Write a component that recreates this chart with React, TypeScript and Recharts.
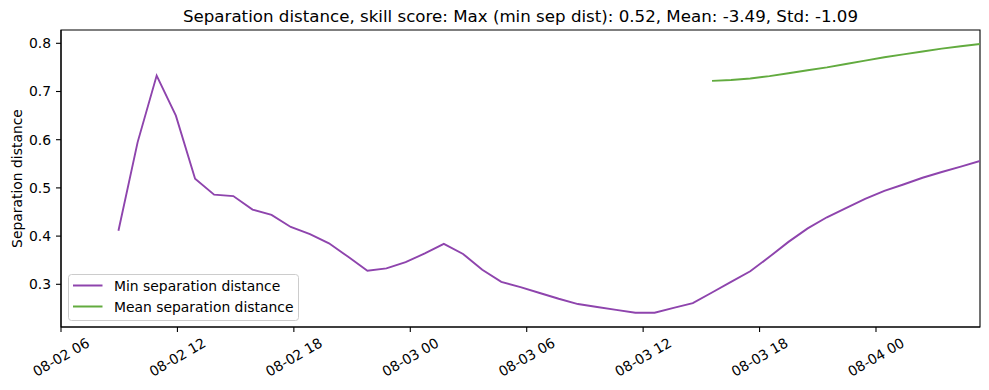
import React from "react";
import { LineChart, Line, XAxis, YAxis, Legend, ReferenceArea } from "recharts";

// hours since 08-02 00:00
const TIMES = [
  8.96, 9.95, 10.93, 11.92, 12.91, 13.89, 14.88, 15.87, 16.85, 17.84,
  18.83, 19.81, 20.8, 21.79, 22.77, 23.76, 24.75, 25.73, 26.72, 27.71,
  28.69, 29.68, 30.67, 31.65, 32.64, 33.63, 34.61, 35.6, 36.59, 37.57,
  38.56, 39.55, 40.53, 41.52, 42.51, 43.49, 44.48, 45.47, 46.45, 47.44,
  48.43, 49.41, 50.4, 51.39, 52.37, 53.36,
];

const MIN_SEP = [
  0.411, 0.595, 0.733, 0.65, 0.519, 0.486, 0.483, 0.455, 0.444, 0.419,
  0.404, 0.385, 0.357, 0.328, 0.333, 0.346, 0.364, 0.384, 0.363, 0.33,
  0.305, 0.294, 0.282, 0.27, 0.259, 0.253, 0.247, 0.241, 0.241, 0.251,
  0.261, 0.283, 0.305, 0.327, 0.357, 0.388, 0.416, 0.439, 0.458, 0.477,
  0.494, 0.507, 0.521, 0.533, 0.544, 0.556,
];

const MEAN_SEP = [
  null, null, null, null, null, null, null, null, null, null,
  null, null, null, null, null, null, null, null, null, null,
  null, null, null, null, null, null, null, null, null, null,
  null, 0.722, 0.724, 0.727, 0.732, 0.738, 0.744, 0.75, 0.757, 0.764,
  0.771, 0.777, 0.783, 0.789, 0.794, 0.7985,
];

const X_TICKS = [6, 12, 18, 24, 30, 36, 42, 48];
const Y_TICKS = [0.3, 0.4, 0.5, 0.6, 0.7, 0.8];
const X_DOMAIN: [number, number] = [6, 53.36];
const Y_DOMAIN: [number, number] = [0.2114, 0.8276];

const TITLE =
  "Separation distance, skill score: Max (min sep dist): 0.52, Mean: -3.49, Std: -1.09";
const Y_LABEL = "Separation distance";

const SERIES = [
  { key: "min", name: "Min separation distance", color: "#8e44ad" },
  { key: "mean", name: "Mean separation distance", color: "#62ab3f" },
];

const data = TIMES.map((t, i) => ({ t, min: MIN_SEP[i], mean: MEAN_SEP[i] }));

const FONT = "DejaVu Sans";

const fmtTime = (h: number) => {
  const day = 2 + Math.floor(h / 24);
  const hr = Math.round(h % 24);
  return `08-${String(day).padStart(2, "0")} ${String(hr).padStart(2, "0")}`;
};

const XTick = (props: any) => {
  const { x, y, payload } = props;
  return (
    <g transform={`translate(${x},${y + 25})`}>
      <text
        transform="rotate(-30)"
        textAnchor="middle"
        dominantBaseline="central"
        fontSize={13.9}
        fontFamily={FONT}
        fill="#000"
      >
        {fmtTime(payload.value)}
      </text>
    </g>
  );
};

const LegendBox = () => (
  <svg width={232} height={48} style={{ display: "block" }}>
    <rect
      x={0.5}
      y={0.5}
      width={230}
      height={46}
      rx={3}
      ry={3}
      fill="#ffffff"
      fillOpacity={0.8}
      stroke="#cccccc"
      strokeWidth={1}
    />
    {SERIES.map((s, i) => (
      <g key={s.key}>
        <line x1={5} x2={34.5} y1={11.5 + i * 21} y2={11.5 + i * 21} stroke={s.color} strokeWidth={2} />
        <text
          x={46}
          y={11.5 + i * 21}
          dominantBaseline="central"
          fontSize={13.9}
          fontFamily={FONT}
          fill="#000"
        >
          {s.name}
        </text>
      </g>
    ))}
  </svg>
);

export default function App() {
  return (
    <div style={{ position: "absolute", left: 0, top: 0, width: 989, height: 390, background: "#fff" }}>
      <LineChart width={989} height={390} data={data} margin={{ top: 30, right: 9, bottom: 0, left: 0 }}>
        <XAxis
          dataKey="t"
          type="number"
          domain={X_DOMAIN}
          ticks={X_TICKS}
          allowDataOverflow
          height={63}
          tickSize={5}
          tickMargin={0}
          tick={<XTick />}
          tickLine={{ stroke: "#000", strokeWidth: 1.1 }}
          axisLine={{ stroke: "#000", strokeWidth: 1.1 }}
        />
        <YAxis
          type="number"
          domain={Y_DOMAIN}
          ticks={Y_TICKS}
          allowDataOverflow
          width={61}
          tickSize={5}
          tickMargin={5}
          tickFormatter={(v: number) => v.toFixed(1)}
          tick={{ fontSize: 13.9, fontFamily: FONT, fill: "#000" }}
          tickLine={{ stroke: "#000", strokeWidth: 1.1 }}
          axisLine={{ stroke: "#000", strokeWidth: 1.1 }}
          label={{
            content: () => (
              <text
                x={16.5}
                y={178.5}
                transform="rotate(-90, 16.5, 178.5)"
                textAnchor="middle"
                dominantBaseline="central"
                fontSize={13.9}
                fontFamily={FONT}
                fill="#000"
              >
                {Y_LABEL}
              </text>
            ),
          }}
        />
        <ReferenceArea
          x1={X_DOMAIN[0]}
          x2={X_DOMAIN[1]}
          y1={Y_DOMAIN[0]}
          y2={Y_DOMAIN[1]}
          fill="none"
          fillOpacity={0}
          stroke="#000"
          strokeWidth={1.1}
          ifOverflow="visible"
        />
        {SERIES.map((s) => (
          <Line
            key={s.key}
            dataKey={s.key}
            name={s.name}
            stroke={s.color}
            strokeWidth={1.9}
            dot={false}
            activeDot={false}
            type="linear"
            connectNulls={false}
            isAnimationActive={false}
          />
        ))}
        <Legend
          layout="horizontal"
          verticalAlign="middle"
          align="center"
          content={() => <LegendBox />}
          wrapperStyle={{ left: 68, top: 274, width: 232, height: 48 }}
        />
        <text
          x={520.5}
          y={22.3}
          textAnchor="middle"
          fontSize={16.67}
          fontFamily={FONT}
          fill="#000"
        >
          {TITLE}
        </text>
      </LineChart>
    </div>
  );
}
